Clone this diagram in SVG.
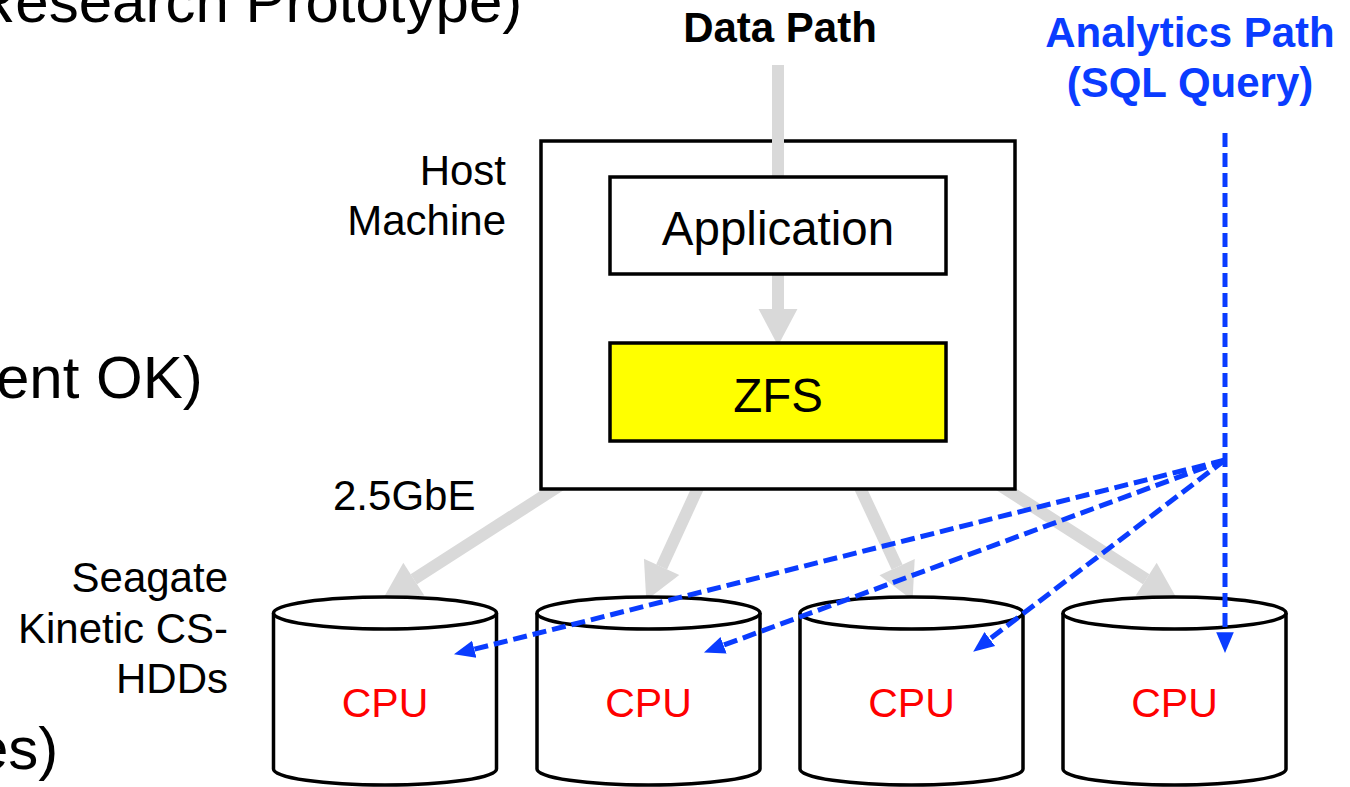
<svg xmlns="http://www.w3.org/2000/svg" width="1350" height="787" viewBox="0 0 1350 787">
<style>
text{font-family:"Liberation Sans",Arial,sans-serif;}
.bg{font-size:60px;fill:#000;}
.lbl{font-size:42px;fill:#000;}
.title{font-size:42px;font-weight:bold;}
.box{fill:#fff;stroke:#000;stroke-width:3.5;}
.cyl{fill:#fff;stroke:#000;stroke-width:3.5;}
.cpu{font-size:41px;fill:#ff0000;text-anchor:middle;}
.gray{stroke:#d9d9d9;stroke-width:12;fill:none;}
.blue{stroke:#0a3cff;stroke-width:5;stroke-dasharray:14 6;fill:none;}
</style>
<defs>
<marker id="gh" markerUnits="userSpaceOnUse" markerWidth="40" markerHeight="40" viewBox="0 -18 34 36" refX="0" refY="0" orient="auto">
<path d="M0,-17.5 L33,0 L0,17.5 z" fill="#d9d9d9"/>
</marker>
<marker id="bh" markerUnits="userSpaceOnUse" markerWidth="22" markerHeight="22" viewBox="0 -9 20 18" refX="8" refY="0" orient="auto">
<path d="M0,-8 L19,0 L0,8 z" fill="#0a3cff"/>
</marker>
</defs>

<g id="background-text">
<text class="bg" x="-28" y="22">Research Prototype)</text>
<text class="bg" x="-4" y="398">ent OK)</text>
<text class="bg" x="-25" y="769">es)</text>
</g>

<g id="labels">
<text class="title" x="780" y="42" text-anchor="middle" fill="#000">Data Path</text>
<text class="title" x="1190" y="47" text-anchor="middle" fill="#0a3cff">Analytics Path</text>
<text class="title" x="1190" y="97" text-anchor="middle" fill="#0a3cff">(SQL Query)</text>
<text class="lbl" x="506" y="185" text-anchor="end">Host</text>
<text class="lbl" x="506" y="235" text-anchor="end">Machine</text>
<text class="lbl" x="333" y="510">2.5GbE</text>
<text class="lbl" x="228" y="592" text-anchor="end">Seagate</text>
<text class="lbl" x="228" y="643" text-anchor="end">Kinetic CS-</text>
<text class="lbl" x="228" y="693" text-anchor="end">HDDs</text>
</g>

<g id="gray-links">
<line class="gray" x1="570" y1="479" x2="413.8" y2="579.2" marker-end="url(#gh)"/>
<line class="gray" x1="702" y1="479" x2="661.6" y2="566.9" marker-end="url(#gh)"/>
<line class="gray" x1="856" y1="479" x2="897.1" y2="567.1" marker-end="url(#gh)"/>
<line class="gray" x1="990" y1="479" x2="1146.2" y2="579.2" marker-end="url(#gh)"/>
</g>

<g id="host">
<rect class="box" x="541" y="141" width="474" height="348"/>
</g>

<g id="data-links">
<line class="gray" x1="778" y1="65" x2="778" y2="177"/>
<line class="gray" x1="778" y1="274" x2="778" y2="309" marker-end="url(#gh)"/>
</g>

<g id="application">
<rect class="box" x="610" y="177" width="336" height="97"/>
<text x="778" y="245" font-size="47.5" text-anchor="middle">Application</text>
</g>

<g id="zfs">
<rect class="box" x="610" y="343" width="336" height="98" style="fill:#ffff00"/>
<text x="778" y="412" font-size="47.5" text-anchor="middle">ZFS</text>
</g>

<g id="hdd1">
<path class="cyl" d="M273.5,613 A111.5,16 0 0 1 496.5,613 L496.5,769 A111.5,16 0 0 1 273.5,769 Z"/>
<path class="cyl" d="M273.5,613 A111.5,16 0 0 0 496.5,613" fill="none"/>
<text class="cpu" x="385" y="717">CPU</text>
</g>
<g id="hdd2">
<path class="cyl" d="M537,613 A111.5,16 0 0 1 760,613 L760,769 A111.5,16 0 0 1 537,769 Z"/>
<path class="cyl" d="M537,613 A111.5,16 0 0 0 760,613" fill="none"/>
<text class="cpu" x="648.5" y="717">CPU</text>
</g>
<g id="hdd3">
<path class="cyl" d="M800,613 A111.5,16 0 0 1 1023,613 L1023,769 A111.5,16 0 0 1 800,769 Z"/>
<path class="cyl" d="M800,613 A111.5,16 0 0 0 1023,613" fill="none"/>
<text class="cpu" x="911.5" y="717">CPU</text>
</g>
<g id="hdd4">
<path class="cyl" d="M1063,613 A111.5,16 0 0 1 1286,613 L1286,769 A111.5,16 0 0 1 1063,769 Z"/>
<path class="cyl" d="M1063,613 A111.5,16 0 0 0 1286,613" fill="none"/>
<text class="cpu" x="1174.5" y="717">CPU</text>
</g>

<g id="analytics-links">
<line class="blue" x1="1225" y1="133" x2="1225" y2="641" marker-end="url(#bh)"/>
<line class="blue" x1="1225" y1="460" x2="465.7" y2="651.4" marker-end="url(#bh)"/>
<line class="blue" x1="1225" y1="460" x2="715.3" y2="648.2" marker-end="url(#bh)"/>
<line class="blue" x1="1225" y1="460" x2="982.8" y2="644.3" marker-end="url(#bh)"/>
</g>
</svg>
